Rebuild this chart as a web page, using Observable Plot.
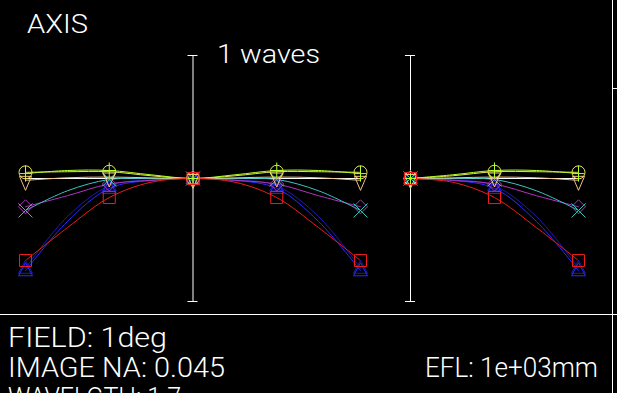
<!DOCTYPE html>
<html><head><meta charset="utf-8">
<script src="https://cdn.jsdelivr.net/npm/d3@7"></script>
<script src="https://cdn.jsdelivr.net/npm/@observablehq/plot@0.6"></script>
<style>
html,body{margin:0;padding:0;background:#000;}
#chart{position:relative;width:617px;height:393px;background:#000;overflow:hidden;}
#chart svg{position:absolute;top:0;}
</style></head><body>
<div id="chart"></div>
<script>
// ---- texts ----
const titleText = "AXIS";
const scaleText = "1 waves";
const infoLines = ["FIELD: 1deg", "IMAGE NA: 0.045", "WAVELGTH: 1.7"];
const eflText = "EFL: 1e+03mm";

// ---- series (drawing order) ----
const seriesNames = ["navy", "blue", "magenta", "cyan", "tan", "yellow", "green", "red"];
const seriesColors = ["#1c1cb0", "#2a2aff", "#b034c0", "#3cc4c0", "#f0c48a", "#e6e650", "#b4ff2a", "#f01c1c"];
const seriesSymbols = ["triangle", "triangle", "diamond", "times", "pin", "circle", "plus", "square"];

// ---- tangential fan (relative pupil -1..1), OPD in waves ----
const tanPupil = [-1, -0.75, -0.5, -0.25, 0, 0.25, 0.5, 0.75, 1];
const tanNavy    = [-0.73, -0.31, -0.06, -0.01, 0, -0.01, -0.06, -0.31, -0.73];
const tanBlue    = [-0.75, -0.35, -0.08, -0.015, 0, -0.015, -0.08, -0.35, -0.75];
const tanMagenta = [-0.23, -0.14, -0.045, -0.015, 0, -0.015, -0.045, -0.14, -0.23];
const tanCyan    = [-0.26, -0.10, -0.008, 0.0, 0, 0.0, -0.008, -0.10, -0.26];
const tanTan     = [-0.015, 0.006, 0.012, 0.005, 0, 0.005, 0.012, 0.006, -0.015];
const tanYellow  = [0.05, 0.055, 0.055, 0.022, 0, 0.022, 0.055, 0.055, 0.05];
const tanGreen   = [0.04, 0.065, 0.065, 0.03, 0, 0.03, 0.065, 0.065, 0.04];
const tanRed     = [-0.667, -0.40, -0.155, -0.03, 0, -0.03, -0.155, -0.40, -0.667];

// ---- sagittal fan (relative pupil 0..1) ----
const sagPupil = [0, 0.25, 0.5, 0.75, 1];
const sagNavy    = [0, -0.01, -0.06, -0.31, -0.73];
const sagBlue    = [0, -0.015, -0.08, -0.35, -0.75];
const sagMagenta = [0, -0.015, -0.045, -0.14, -0.23];
const sagCyan    = [0, 0.0, -0.008, -0.10, -0.26];
const sagTan     = [0, 0.005, 0.012, 0.006, -0.015];
const sagYellow  = [0, 0.022, 0.055, 0.055, 0.05];
const sagGreen   = [0, 0.03, 0.065, 0.065, 0.04];
const sagRed     = [0, -0.03, -0.155, -0.40, -0.667];

const markerPupil = [-1, -0.5, 0, 0.5, 1];

const tanValues = [tanNavy, tanBlue, tanMagenta, tanCyan, tanTan, tanYellow, tanGreen, tanRed];
const sagValues = [sagNavy, sagBlue, sagMagenta, sagCyan, sagTan, sagYellow, sagGreen, sagRed];

// ---- marker shapes ----
const shapes = {
  square:   {draw(c){ c.moveTo(-6,-6); c.lineTo(6,-6); c.lineTo(6,6); c.lineTo(-6,6); c.closePath(); }},
  triangle: {draw(c){ c.moveTo(0,-8); c.lineTo(7,5); c.lineTo(-7,5); c.closePath(); }},
  diamond:  {draw(c){ c.moveTo(0,-7); c.lineTo(7,0); c.lineTo(0,7); c.lineTo(-7,0); c.closePath(); }},
  times:    {draw(c){ c.moveTo(-7,-7); c.lineTo(7,7); c.moveTo(-7,7); c.lineTo(7,-7); }},
  circle:   {draw(c){ c.moveTo(6.5,0); c.arc(0,0,6.5,0,2*Math.PI); }},
  plus:     {draw(c){ c.moveTo(-6,0); c.lineTo(6,0); c.moveTo(0,-8); c.lineTo(0,8); }},
  pin:      {draw(c){ c.moveTo(-6,-4); c.lineTo(6,-4); c.lineTo(0,10); c.closePath(); }}
};

function buildTable(pupil, values) {
  const rows = [];
  values.forEach((arr, i) => arr.forEach((w, j) => rows.push({series: seriesNames[i], idx: i, p: pupil[j], w})));
  return rows;
}

function panelMarks(table, xmin) {
  const marks = [
    Plot.ruleY([0], {x1: xmin, x2: 1, stroke: "#fff", strokeWidth: 1}),
    Plot.ruleX([0], {y1: -1, y2: 1, stroke: "#fff", strokeWidth: 1}),
    Plot.ruleY([-1, 1], {x1: -0.03, x2: 0.03, stroke: "#fff", strokeWidth: 1})
  ];
  seriesNames.forEach((name, i) => {
    marks.push(Plot.line(table.filter(d => d.idx === i), {
      x: "p", y: "w", stroke: seriesColors[i], strokeWidth: 1, curve: "catmull-rom"
    }));
  });
  seriesNames.forEach((name, i) => {
    marks.push(Plot.dot(table.filter(d => d.idx === i && markerPupil.includes(d.p)), {
      x: "p", y: "w", r: 5, symbol: () => shapes[seriesSymbols[i]],
      fill: "none", stroke: seriesColors[i], strokeWidth: 1
    }));
  });
  return marks;
}

const tanTable = buildTable(tanPupil, tanValues);
const sagTable = buildTable(sagPupil, sagValues);

const common = {
  height: 314, marginTop: 55, marginBottom: 13,
  y: {domain: [-1, 1], axis: null},
  style: {background: "transparent", overflow: "visible"}
};

const tanPlot = Plot.plot({
  ...common, width: 400, marginLeft: 25, marginRight: 40,
  x: {domain: [-1, 1], axis: null},
  symbol: {type: "identity"},
  marks: panelMarks(tanTable, -1)
});
const sagPlot = Plot.plot({
  ...common, width: 217, marginLeft: 10, marginRight: 39,
  x: {domain: [0, 1], axis: null},
  symbol: {type: "identity"},
  marks: panelMarks(sagTable, 0)
});

const chart = document.getElementById("chart");
tanPlot.style.left = "0px";
sagPlot.style.left = "400px";
chart.appendChild(tanPlot);
chart.appendChild(sagPlot);

// ---- frame and texts ----
const svg = d3.select(chart).append("svg")
  .attr("width", 617).attr("height", 393).style("left", "0px");
const frame = [
  [0, 314.5, 617, 314.5],
  [612.5, 0, 612.5, 393],
  [612.5, 88.5, 617, 88.5]
];
svg.selectAll("line").data(frame).join("line")
  .attr("x1", d => d[0]).attr("y1", d => d[1]).attr("x2", d => d[2]).attr("y2", d => d[3])
  .attr("stroke", "#fff").attr("stroke-width", 1);

const texts = [
  {t: titleText, x: 27, y: 33, size: 26, len: 61},
  {t: scaleText, x: 217, y: 63, size: 25, len: 103},
  {t: infoLines[0], x: 8, y: 347, size: 27, len: 159},
  {t: infoLines[1], x: 8, y: 377, size: 27, len: 217},
  {t: infoLines[2], x: 8, y: 407, size: 27, len: 173},
  {t: eflText, x: 425, y: 377, size: 27, len: 173}
];
svg.selectAll("text").data(texts).join("text")
  .attr("x", d => d.x).attr("y", d => d.y)
  .attr("font-family", "Roboto, 'DejaVu Sans', sans-serif")
  .attr("font-weight", 300)
  .attr("font-size", d => d.size)
  .attr("textLength", d => d.len)
  .attr("lengthAdjust", "spacingAndGlyphs")
  .attr("fill", "#fff")
  .text(d => d.t);
</script>
</body></html>
